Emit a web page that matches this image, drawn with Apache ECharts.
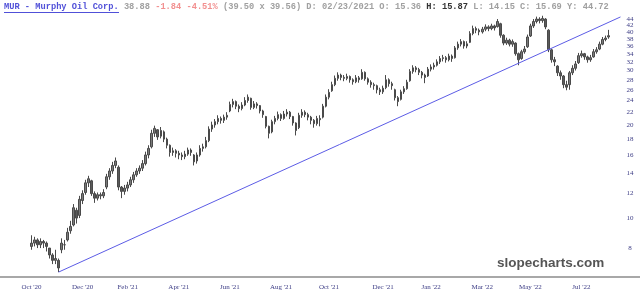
<!DOCTYPE html>
<html>
<head>
<meta charset="utf-8">
<script src="https://cdn.jsdelivr.net/npm/echarts@6/dist/echarts.min.js"></script>
<style>
html,body{margin:0;padding:0;background:#fff;}
#chart{width:640px;height:299px;}
</style>
</head>
<body>
<div id="chart"></div>
<script>
const headerTicker = "MUR - Murphy Oil Corp.";
const headerLast = "38.88";
const headerChange = "-1.84 -4.51%";
const headerQuote = "(39.50 x 39.56) D: 02/23/2021 O: 15.36";
const headerHigh = "H: 15.87";
const headerRest = "L: 14.15 C: 15.69 Y: 44.72";

const firstBar = 10;           // slot index of the first bar
const slotCount = 213;         // slots along the time axis
// [open, close, low, high]
const bars = [
[8.1,8.3,7.9,8.8],[8.3,8.5,8.1,8.7],[8.5,8.2,8.0,8.6],[8.2,8.4,8.0,8.6],[8.4,8.3,8.0,8.5],
[8.3,8.1,7.8,8.4],[8.0,7.6,7.4,8.0],[7.6,7.3,7.1,7.7],[7.3,7.4,7.1,7.9],[7.3,6.9,6.69,7.4],
[7.9,8.3,7.7,8.6],[8.2,8.2,7.9,8.5],[8.5,9.0,8.4,9.3],[9.1,9.4,8.9,9.8],[9.5,10.8,9.4,11.1],
[10.6,10.0,9.6,10.8],[10.2,11.5,10.0,11.8],[11.4,12.0,11.1,12.3],[12.1,13.0,11.9,13.3],[13.0,13.4,12.6,13.7],
[13.2,12.0,11.8,13.3],[12.0,11.6,11.2,12.2],[11.6,11.9,11.4,12.1],[11.9,11.8,11.5,12.1],[11.8,12.1,11.6,12.4],
[12.6,13.6,12.4,13.9],[13.6,14.2,13.3,14.5],[14.2,14.8,13.9,15.2],[14.8,15.3,14.5,15.7],[14.6,12.6,12.3,14.8],
[12.6,12.2,11.6,12.7],[12.2,12.5,11.9,12.8],[12.5,12.8,12.2,13.1],[12.8,13.3,12.6,13.6],[13.3,13.8,13.0,14.1],
[13.8,14.2,13.6,14.5],[14.2,14.5,13.9,14.8],[14.5,15.0,14.2,15.4],[15.0,16.0,14.8,16.4],[16.0,16.8,15.6,17.2],
[17.0,18.8,16.8,19.3],[18.8,19.5,18.3,19.9],[19.3,18.3,17.9,19.4],[18.4,19.2,18.1,19.7],[19.0,18.0,17.6,19.2],
[18.0,17.2,16.8,18.2],[17.2,16.3,15.8,17.3],[16.3,16.5,15.9,16.9],[16.5,16.2,15.7,16.7],[16.2,16.0,15.5,16.5],
[16.0,15.8,15.4,16.3],[15.8,16.1,15.5,16.5],[16.1,16.6,15.9,16.9],[16.6,16.3,15.9,16.8],[16.0,15.2,14.8,16.1],
[15.3,16.0,15.0,16.3],[16.0,16.8,15.8,17.2],[16.8,17.0,16.4,17.4],[17.0,17.8,16.8,18.3],[17.8,19.4,17.6,19.8],
[19.4,20.0,19.0,20.5],[20.0,20.5,19.6,20.9],[20.5,21.0,20.1,21.5],[21.0,20.7,20.2,21.3],[20.7,21.2,20.3,21.6],
[21.2,21.5,20.8,22.0],[22.2,23.3,22.0,23.8],[23.3,23.8,22.8,24.3],[23.8,23.0,22.5,24.0],[23.0,22.6,22.0,23.3],
[22.6,23.2,22.3,23.7],[23.2,24.0,23.0,24.6],[24.0,24.6,23.6,25.1],[24.4,22.8,22.4,24.5],[22.8,23.4,22.5,23.9],
[23.4,23.1,22.6,23.7],[23.1,22.2,21.8,23.2],[22.2,21.6,21.1,22.4],[21.3,19.8,19.5,21.4],[19.8,18.8,18.1,19.9],
[19.0,20.5,18.8,20.8],[20.5,21.0,20.1,21.4],[21.0,21.6,20.7,22.1],[21.6,21.0,20.6,21.8],[21.0,21.7,20.8,22.2],
[21.7,22.0,21.3,22.5],[22.0,21.3,20.9,22.2],[21.3,20.3,19.9,21.4],[20.3,19.2,18.5,20.4],[19.6,21.5,19.4,21.9],
[21.5,22.0,21.1,22.5],[22.0,21.6,21.2,22.3],[21.6,21.2,20.7,21.9],[21.2,20.7,20.1,21.4],[20.7,20.2,19.6,20.9],
[20.2,21.0,19.9,21.4],[21.0,20.8,19.8,21.5],[21.2,23.0,21.0,23.4],[23.0,24.6,22.8,25.1],[24.6,25.5,24.2,26.1],
[25.8,27.0,25.6,27.6],[27.0,28.3,26.7,28.9],[28.3,29.0,27.8,29.6],[29.0,28.5,27.9,29.3],[28.5,28.3,27.7,29.0],
[28.3,28.7,27.9,29.3],[28.7,28.0,27.4,28.9],[28.0,27.6,27.0,28.3],[27.6,28.4,27.3,29.0],[28.4,28.0,27.4,28.8],
[28.2,29.6,28.0,30.3],[29.6,28.2,27.8,29.8],[28.2,27.5,27.0,28.5],[27.5,27.0,26.4,27.9],[27.0,26.8,26.0,27.4],
[26.8,26.0,25.3,27.0],[26.0,25.6,25.0,26.4],[25.6,26.3,25.2,26.8],[26.4,28.0,26.1,29.0],[28.0,27.2,26.6,28.3],
[27.2,26.8,26.0,27.6],[26.0,24.5,24.0,26.2],[24.5,23.8,23.0,24.8],[24.2,25.6,24.0,26.0],[25.6,26.2,25.2,26.7],
[26.2,27.5,26.0,28.0],[27.8,29.8,27.6,30.3],[29.8,30.6,29.3,31.2],[30.6,30.2,29.6,31.0],[30.2,29.6,29.0,30.6],
[29.6,29.0,28.3,29.9],[29.0,28.5,27.3,29.3],[28.8,30.3,28.6,30.8],[30.3,30.8,29.8,31.4],[30.8,31.2,30.2,31.8],
[31.2,32.0,30.9,32.6],[32.0,32.8,31.5,33.4],[32.8,33.0,32.1,33.7],[33.0,32.5,31.8,33.4],[32.5,33.4,32.1,34.0],
[33.4,32.8,32.0,33.8],[33.0,35.5,32.8,36.0],[35.5,36.5,35.0,37.2],[36.5,37.2,35.9,37.9],[37.2,36.0,35.3,37.5],
[36.0,36.6,35.4,37.3],[37.0,39.5,36.8,40.2],[39.5,41.0,39.0,41.9],[41.0,40.5,39.6,41.6],[40.5,40.0,39.0,41.0],
[40.0,40.8,39.5,41.5],[40.8,41.5,40.2,42.3],[41.5,41.0,40.2,42.0],[41.0,41.8,40.5,42.5],[41.8,41.2,40.4,42.2],
[41.6,43.2,41.3,44.0],[42.5,39.0,38.3,42.8],[39.0,36.8,36.2,39.3],[36.8,37.6,36.3,38.3],[37.6,36.5,35.9,38.0],
[36.5,37.2,35.8,37.8],[36.8,34.0,33.5,37.0],[34.0,32.5,31.2,34.3],[32.8,34.5,32.5,35.0],[34.5,35.2,34.0,36.0],
[35.8,38.5,35.5,39.2],[38.8,41.8,38.5,42.5],[41.8,43.2,41.2,44.0],[43.2,44.0,42.6,44.8],[44.0,43.5,42.6,44.6],
[43.5,44.2,42.8,45.1],[44.0,41.5,40.8,44.3],[40.5,35.0,34.4,40.8],[35.0,32.5,31.8,35.3],[32.5,32.0,31.0,33.2],
[31.0,29.5,28.8,31.2],[29.5,28.8,28.0,30.0],[28.8,27.0,26.3,29.0],[27.0,26.5,25.9,27.8],[27.0,29.5,26.0,29.9],
[29.5,30.5,29.0,31.2],[30.5,31.5,30.0,32.2],[31.8,33.5,31.5,34.2],[33.5,34.0,33.0,34.8],[34.0,33.2,32.5,34.2],
[33.2,32.5,31.8,33.5],[32.5,33.0,32.0,33.7],[33.2,34.5,33.0,35.2],[34.5,35.0,34.0,35.7],[35.2,36.5,34.9,37.2],
[36.5,37.8,36.2,38.5],[37.8,38.2,37.3,38.9],[38.5,38.88,38.0,40.6]
];

// x tick labels and the slot each sits on
const xTickLabels = ["Oct '20","Dec '20","Feb '21","Apr '21","Jun '21","Aug '21","Oct '21","Dec '21","Jan '22","Mar '22","May '22","Jul '22"];
const xTickSlots  = [10, 27, 42, 59, 76, 93, 109, 127, 143, 160, 176, 193];
// y tick labels (log scale)
const yTickValues = [8,10,12,14,16,18,20,22,24,26,28,30,32,34,36,38,40,42,44];
const yMin = 6.45, yMax = 47.07;
// trend line endpoints [slot, price]
const trendStart = [19, 6.69];
const trendEnd = [206, 44.7];

// ---- build ----
const slots = Array.from({length: slotCount}, (_, i) => String(i));
const seriesData = bars.map((b, k) => [String(firstBar + k), b[0], b[1], b[2], b[3]]);

const chart = echarts.init(document.getElementById('chart'), null, {renderer: 'canvas'});
const mono = '"Liberation Mono", "DejaVu Sans Mono", monospace';
const serif = '"Liberation Serif", "DejaVu Serif", serif';

const option = {
  animation: false,
  backgroundColor: '#ffffff',
  title: {
    left: 4, top: 2, padding: 0,
    text: '{a|' + headerTicker + '} {g|' + headerLast + '} {r|' + headerChange + '} {g|' + headerQuote + '} {b|' + headerHigh + '} {g|' + headerRest + '}',
    textStyle: {
      fontFamily: mono, fontSize: 8.7, color: '#999',
      rich: {
        a: {fontFamily: mono, fontSize: 8.7, color: '#5050d8', fontWeight: 'bold'},
        g: {fontFamily: mono, fontSize: 8.7, color: '#a0a0a0'},
        r: {fontFamily: mono, fontSize: 8.7, color: '#f29090'},
        b: {fontFamily: mono, fontSize: 8.7, color: '#333', fontWeight: 'bold'}
      }
    }
  },
  grid: {left: 0, right: 0, top: 10, bottom: 22, containLabel: false, outerBoundsMode: 'none'},
  xAxis: {
    type: 'category', data: slots, boundaryGap: true,
    axisLine: {show: true, lineStyle: {color: '#a8a8a8', width: 2}},
    axisTick: {show: false},
    splitLine: {show: false},
    axisLabel: {
      show: true, margin: 7, color: '#3c3c85', fontFamily: serif, fontSize: 7,
      hideOverlap: false,
      interval: (index) => xTickSlots.indexOf(index) >= 0,
      formatter: (val, index) => {
        const k = xTickSlots.indexOf(Number(val));
        return k >= 0 ? xTickLabels[k] : '';
      }
    }
  },
  yAxis: {
    type: 'log', position: 'right', min: yMin, max: yMax,
    axisLine: {show: false}, axisTick: {show: false}, splitLine: {show: false},
    axisLabel: {show: false}
  },
  series: [{
    type: 'candlestick',
    data: seriesData,
    encode: {x: 0, y: [1, 2, 3, 4]},
    barWidth: 2,
    itemStyle: {color: '#7a7a7a', color0: '#5a5a5a', borderColor: '#4a4a4a', borderColor0: '#4a4a4a', borderWidth: 1},
    markLine: {
      silent: true, symbol: ['none', 'none'], label: {show: false},
      lineStyle: {color: '#5c5ce6', width: 1, type: 'solid'},
      data: [[{coord: [String(trendStart[0]), trendStart[1]]}, {coord: [String(trendEnd[0]), trendEnd[1]]}]]
    }
  }]
};
chart.setOption(option);

// y tick labels positioned through the log axis scale
const graphics = [];
yTickValues.forEach((v, i) => {
  const py = chart.convertToPixel({yAxisIndex: 0}, v);
  graphics.push({
    type: 'text', id: 'yl' + i, x: 630, y: py, silent: true,
    style: {text: String(v), fill: '#3c3c85', font: '7px ' + serif, textAlign: 'center', textVerticalAlign: 'middle'}
  });
});
// underline of the ticker link
graphics.push({type: 'line', id: 'ul', silent: true, shape: {x1: 4, y1: 12.5, x2: 119, y2: 12.5}, style: {stroke: '#5050d8', lineWidth: 1}});
// watermark
graphics.push({
  type: 'text', id: 'wm', x: 497, y: 256, silent: true,
  style: {text: 'slopecharts.com', fill: '#555555', font: 'bold 13.5px "Liberation Sans", Arial, sans-serif', textVerticalAlign: 'top'}
});
chart.setOption({graphic: graphics});
</script>
</body>
</html>
